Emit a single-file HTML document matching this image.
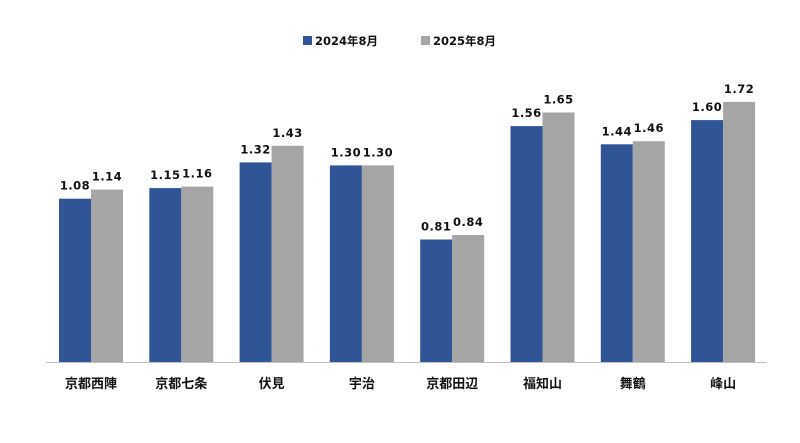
<!DOCTYPE html>
<html><head><meta charset="utf-8"><style>
html,body{margin:0;padding:0;background:#fff;}
svg{display:block;font-family:"DejaVu Sans","Noto Sans CJK JP",sans-serif;}
</style></head><body>
<svg width="800" height="443" viewBox="0 0 800 443" xmlns="http://www.w3.org/2000/svg">
<rect width="800" height="443" fill="#fff"/>
<rect x="303" y="36" width="9" height="9" fill="#2F5597"/>
<text x="315" y="45" font-size="11.5" font-weight="bold" fill="#111">2024年8月</text>
<rect x="421" y="36" width="9" height="9" fill="#A5A5A5"/>
<text x="433" y="45" font-size="11.5" font-weight="bold" fill="#111">2025年8月</text>
<g id="bars"></g>
<line x1="46" y1="362.5" x2="767" y2="362.5" stroke="#bfbfbf" stroke-width="1"/>
</svg>
<script>
var d=[["京都西陣",1.08,1.14],["京都七条",1.15,1.16],["伏見",1.32,1.43],["宇治",1.30,1.30],["京都田辺",0.81,0.84],["福知山",1.56,1.65],["舞鶴",1.44,1.46],["峰山",1.60,1.72]];
var g=document.getElementById("bars"),s="",base=362,k=151.2;
d.forEach(function(r,i){var x=59+i*90.3;
[[r[1],"#2F5597",x],[r[2],"#A5A5A5",x+32]].forEach(function(b){var h=b[0]*k,t=base-h;
s+='<rect x="'+b[2].toFixed(1)+'" y="'+t.toFixed(1)+'" width="32" height="'+h.toFixed(1)+'" fill="'+b[1]+'"/>';
s+='<text x="'+(b[2]+16).toFixed(1)+'" y="'+(t-9).toFixed(1)+'" font-size="11.5" letter-spacing="0.5" font-weight="bold" fill="#111" text-anchor="middle">'+b[0].toFixed(2)+'</text>';});
s+='<text x="'+(x+32).toFixed(1)+'" y="388" font-size="13" font-weight="bold" fill="#111" text-anchor="middle">'+r[0]+'</text>';});
g.innerHTML=s;
</script>
</body></html>
